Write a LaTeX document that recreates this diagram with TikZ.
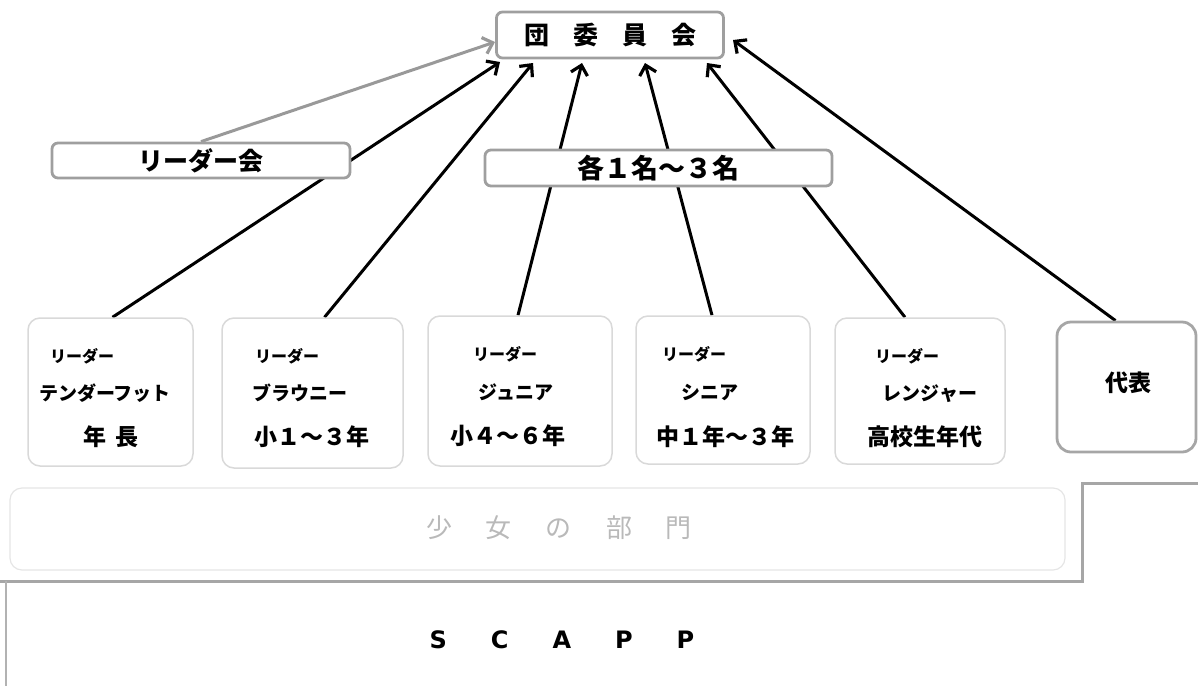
\documentclass[tikz,border=0pt]{standalone}
\usepackage{fontspec}
\setmainfont{Noto Sans CJK JP}
\newfontfamily\latinfont{DejaVu Sans}
\usetikzlibrary{arrows.meta}
\pgfdeclarelayer{bg}
\pgfsetlayers{bg,main}
\tikzset{
  headbox/.style={draw=gray!75, line width=2.8pt, rounded corners=6pt, fill=white, inner sep=0pt},
  groupbox/.style={draw=gray!30, line width=1.5pt, rounded corners=12pt, fill=white, inner sep=0pt},
  repbox/.style={draw=gray!70, line width=2.8pt, rounded corners=14pt, fill=white, inner sep=0pt},
  arr/.style={line width=3pt, -{Straight Barb[length=9pt,width=17pt,line width=3.2pt]}},
  garr/.style={arr, draw=gray!80},
  tsmall/.style={font=\bfseries\fontsize{16}{16}\selectfont},
  tmid/.style={font=\bfseries\fontsize{19}{19}\selectfont},
  tbig/.style={font=\bfseries\fontsize{23}{23}\selectfont},
  thead/.style={font=\bfseries\fontsize{25}{25}\selectfont},
}
\begin{document}
\begin{tikzpicture}[x=1pt,y=-1pt]
\useasboundingbox (0,0) rectangle (1198,686);
% head boxes
\node[headbox, minimum width=227pt, minimum height=46pt, thead] (top) at (610,35) {団\hspace{24pt}委\hspace{24pt}員\hspace{24pt}会};
\node[headbox, minimum width=298pt, minimum height=35pt, font=\bfseries\fontsize{25}{25}\selectfont] (lc) at (201,160.5) {リーダー会};
\node[headbox, minimum width=347pt, minimum height=36pt, font=\bfseries\fontsize{27}{27}\selectfont] (each) at (658.5,168) {各１名～３名};
% group boxes
\node[groupbox, minimum width=165pt, minimum height=148pt] (b1) at (110.5,392) {};
\node[groupbox, minimum width=181pt, minimum height=150pt] (b2) at (312.5,393) {};
\node[groupbox, minimum width=184pt, minimum height=150pt] (b3) at (520,391) {};
\node[groupbox, minimum width=174pt, minimum height=148pt] (b4) at (723,390) {};
\node[groupbox, minimum width=170pt, minimum height=146pt] (b5) at (920,391) {};
\node[repbox, minimum width=139pt, minimum height=130pt] (b6) at (1126.5,387) {};
% texts
\node[tsmall] (l1) at (82,356) {リーダー};
\node[tmid] (m1) at (105,393) {テンダーフット};
\node[tbig] (y1) at (111,437) {年\hspace{10pt}長};
\node[tsmall] (l2) at (287,356) {リーダー};
\node[tmid] (m2) at (300,393) {ブラウニー};
\node[tbig] (y2) at (312,437) {小１～３年};
\node[tsmall] (l3) at (505,354) {リーダー};
\node[tmid] (m3) at (516,392) {ジュニア};
\node[tbig] (y3) at (508,436) {小４～６年};
\node[tsmall] (l4) at (694,354) {リーダー};
\node[tmid] (m4) at (710,392) {シニア};
\node[tbig] (y4) at (725,437) {中１年～３年};
\node[tsmall] (l5) at (907,356) {リーダー};
\node[tmid] (m5) at (930,394) {レンジャー};
\node[tbig] (y5) at (925,437) {高校生年代};
\node[font=\bfseries\fontsize{23}{23}\selectfont] (rep) at (1128,383) {代表};
% arrow end points
\coordinate (eg) at (495,42);
\coordinate (e1) at (500,62);
\coordinate (e2) at (533,63);
\coordinate (e3) at (582,63);
\coordinate (e4) at (645,63);
\coordinate (e5) at (707,63);
\coordinate (e6) at (733,40);
\begin{pgfonlayer}{bg}
\draw[garr] (lc.north) -- (eg);
\draw[arr] ([xshift=2pt]b1.north) -- (e1);
\draw[arr] ([xshift=12pt]b2.north) -- (e2);
\draw[arr] ([xshift=-2pt]b3.north) -- (e3);
\draw[arr] ([xshift=-11pt]b4.north) -- (e4);
\draw[arr] ([xshift=-15pt]b5.north) -- (e5);
\draw[arr] ([xshift=-11pt]b6.north) -- (e6);
\end{pgfonlayer}
% girls section
\node[draw=gray!20, line width=1.2pt, rounded corners=12pt, minimum width=1055pt, minimum height=82pt] (girls) at (537.5,529) {};
\node[text=gray!55, font=\fontsize{26}{26}\selectfont] (girlst) at (559,528) {少\hspace{34pt}女\hspace{34pt}の\hspace{34pt}部\hspace{34pt}門};
% SCAPP frame
\coordinate (f0) at (0,581);
\coordinate (f1) at (1082,581);
\coordinate (f2) at (1082,483);
\coordinate (f3) at (1198,483);
\coordinate (f4) at (6,581);
\coordinate (f5) at (6,686);
\draw[gray!70, line width=3pt] (f0) -- (f1) -- (f2) -- (f3);
\draw[gray!60, line width=1.5pt] (f4) -- (f5);
\node[font=\latinfont\bfseries\fontsize{24}{24}\selectfont] (scapp) at (562,640) {S\hspace{44pt}C\hspace{44pt}A\hspace{44pt}P\hspace{44pt}P};
\end{tikzpicture}
\end{document}
